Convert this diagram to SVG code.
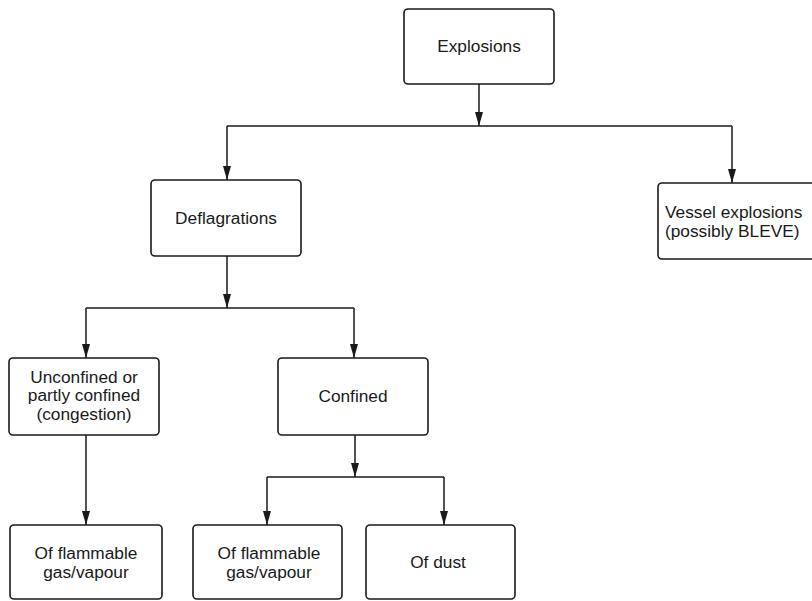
<svg xmlns="http://www.w3.org/2000/svg" width="812" height="601" viewBox="0 0 812 601">
  <defs>
    <marker id="arrd" markerUnits="userSpaceOnUse" markerWidth="14" markerHeight="8" refX="14" refY="4" orient="auto" viewBox="0 0 14 8">
      <path d="M0,0 L14,4 L0,8 Z" fill="#1a1a1a"/>
    </marker>
  </defs>
  <style>
    .box { fill: #ffffff; stroke: #1a1a1a; stroke-width: 1.6; }
    .t { font-family: "Liberation Sans", Arial, sans-serif; font-size: 17.3px; fill: #1a1a1a; text-anchor: middle; }
    .tl { text-anchor: start; }
    .c { fill: none; stroke: #1a1a1a; stroke-width: 1.5; }
    .a { marker-end: url(#arrd); }
  </style>
  <rect width="812" height="601" fill="#ffffff"/>

  <g id="connectors">
    <line class="c a" x1="479" y1="84" x2="479" y2="126"/>
    <line class="c" x1="227" y1="126" x2="732" y2="126"/>
    <line class="c a" x1="227" y1="126" x2="227" y2="180"/>
    <line class="c a" x1="732" y1="126" x2="732" y2="183"/>
    <line class="c a" x1="227" y1="256" x2="227" y2="308"/>
    <line class="c" x1="86" y1="308" x2="354" y2="308"/>
    <line class="c a" x1="86" y1="308" x2="86" y2="358"/>
    <line class="c a" x1="354" y1="308" x2="354" y2="358"/>
    <line class="c a" x1="86" y1="435" x2="86" y2="525"/>
    <line class="c a" x1="355" y1="435" x2="355" y2="477"/>
    <line class="c" x1="267" y1="477" x2="444" y2="477"/>
    <line class="c a" x1="267" y1="477" x2="267" y2="525"/>
    <line class="c a" x1="444" y1="477" x2="444" y2="525"/>
  </g>

  <g id="explosions">
    <rect class="box" x="404" y="9" width="150" height="75" rx="4"/>
    <text class="t" x="479" y="52">Explosions</text>
  </g>
  <g id="deflagrations">
    <rect class="box" x="151" y="180" width="150" height="76" rx="4"/>
    <text class="t" x="226" y="224">Deflagrations</text>
  </g>
  <g id="vessel">
    <rect class="box" x="658" y="183" width="170" height="76" rx="4"/>
    <text class="t tl" x="665" y="217.5">Vessel explosions</text>
    <text class="t tl" x="665" y="236.5">(possibly BLEVE)</text>
  </g>
  <g id="unconfined">
    <rect class="box" x="9" y="358" width="150" height="77" rx="4"/>
    <text class="t" x="84" y="382.5">Unconfined or</text>
    <text class="t" x="84" y="401">partly confined</text>
    <text class="t" x="84" y="419.5">(congestion)</text>
  </g>
  <g id="confined">
    <rect class="box" x="278" y="358" width="150" height="77" rx="4"/>
    <text class="t" x="353" y="402">Confined</text>
  </g>
  <g id="gas1">
    <rect class="box" x="10" y="525" width="152" height="74" rx="4"/>
    <text class="t" x="86" y="559">Of flammable</text>
    <text class="t" x="86" y="578">gas/vapour</text>
  </g>
  <g id="gas2">
    <rect class="box" x="193" y="525" width="149" height="74" rx="4"/>
    <text class="t" x="269" y="559">Of flammable</text>
    <text class="t" x="269" y="578">gas/vapour</text>
  </g>
  <g id="dust">
    <rect class="box" x="366" y="525" width="149" height="74" rx="4"/>
    <text class="t" x="438" y="568">Of dust</text>
  </g>
</svg>
